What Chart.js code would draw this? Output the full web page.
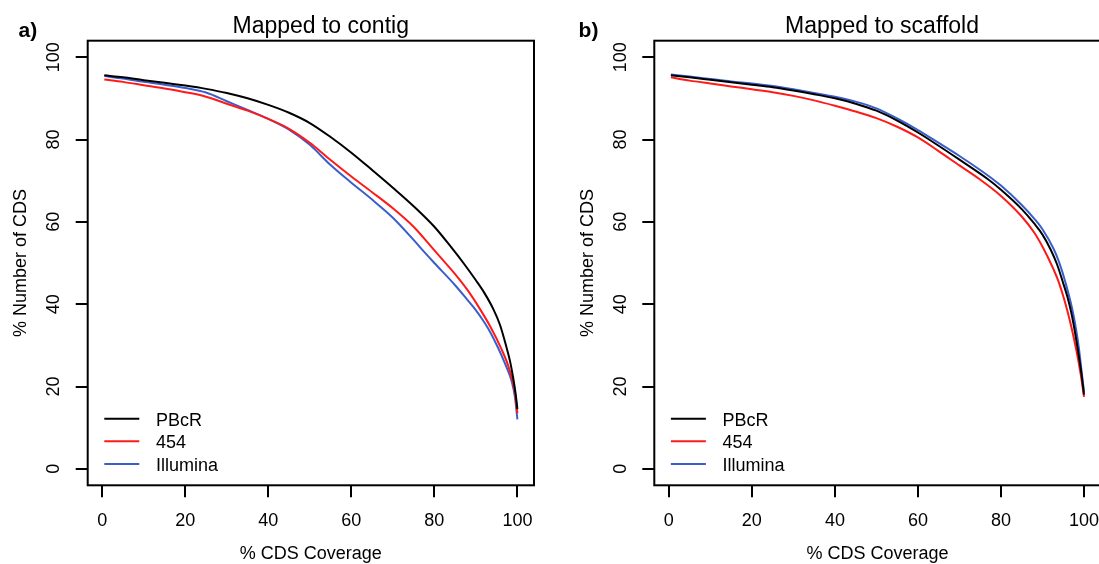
<!DOCTYPE html>
<html><head><meta charset="utf-8">
<script src="https://cdn.jsdelivr.net/npm/chart.js@4/dist/chart.umd.min.js"></script>
<style>
html,body{margin:0;padding:0;background:#fff;overflow:hidden;width:1099px;height:564px;position:relative;}
canvas{position:absolute;top:0;}
#c1{left:0}
#c2{left:549px}
</style></head><body>
<canvas id="c1" width="549" height="564"></canvas>
<canvas id="c2" width="590" height="564"></canvas>
<script>
const seriesNames = ['PBcR', '454', 'Illumina'];
const seriesColors = ['#000000', '#ff1a1a', '#3a5fcd'];
const xTickValues = [0, 20, 40, 60, 80, 100];
const yTickValues = [0, 20, 40, 60, 80, 100];
const panelLetters = ['a)', 'b)'];
const panelTitles = ['Mapped to contig', 'Mapped to scaffold'];
const xAxisTitle = '% CDS Coverage';
const yAxisTitle = '% Number of CDS';

// Panel a) Mapped to contig
const contigPBcR_x = [0.5,5,10,15,20,25,30,35,40,45,50,55,60,65,70,75,80,84,87,90,92,94.2,95.8,97.3,98.3,99,99.6,100];
const contigPBcR_y = [95.6,95.1,94.4,93.8,93.1,92.3,91.3,90.0,88.4,86.5,84.0,80.6,76.8,72.6,68.3,63.8,58.8,53.9,50.0,45.8,42.8,38.8,35.0,29.8,25.8,22,18,14.5];
const contig454_x = [0.5,5,10,15,20,25,30,35,40,45,50,55,60,65,70,75,79.8,85,88,91,93.5,96.2,97.8,98.9,99.5,100];
const contig454_y = [94.6,94.0,93.2,92.4,91.5,90.4,88.7,87.0,85.0,82.6,79.2,75.0,71.0,67.2,63.3,58.8,53.3,47.3,43.4,38.8,34.5,29,25,21,18,13.5];
const contigIllumina_x = [0.5,5,10,15,20,25,30,35,40,45,50,55,60,65,70,75,77,80,85,88,89.8,91.5,93,95.4,97,98.7,99.4,100];
const contigIllumina_y = [95.4,94.8,94.0,93.3,92.5,91.4,89.3,87.2,85.0,82.4,78.7,73.8,69.5,65.4,61.0,55.6,53.3,50.0,44.6,41.0,38.8,36.4,34.0,29.3,25.6,21,17.5,12];

// Panel b) Mapped to scaffold
const scaffoldPBcR_x = [0.5,5,10,15,20,25,30,35,40,45,50,55,60,64.8,70,76.8,80,85,88,90,91.9,93.5,94.9,96,97.1,98.5,99.4,100];
const scaffoldPBcR_y = [95.6,95.1,94.5,93.9,93.3,92.7,91.9,91.0,90.0,88.7,87.0,84.6,81.7,78.6,75.1,70.4,67.8,63.1,59.6,56.9,53.4,49.7,45.4,41.8,37.2,29.1,23,18];
const scaffold454_x = [0.5,5,10,15,20,25,30,35,40,45,50,55,60,64.8,70,74.8,80,85,88,90.3,92.5,93.9,96.3,98.1,99.2,100];
const scaffold454_y = [95.1,94.3,93.6,92.9,92.2,91.5,90.6,89.5,88.2,86.8,85.2,83.1,80.5,77.3,73.7,70.4,66.3,61.3,57.4,53.4,48.8,45.4,37.2,29.1,23,17.5];
const scaffoldIllumina_x = [0.5,5,10,15,20,25,30,35,40,45,50,55,60,64.8,70,75,78,80,85,88,90,92.7,94,95.5,97.5,98.8,99.5,100];
const scaffoldIllumina_y = [95.8,95.3,94.7,94.1,93.6,93.0,92.2,91.3,90.4,89.2,87.55,85.1,82.3,79.3,76.0,72.6,70.4,68.8,64.1,60.8,58.2,53.4,50.2,45.4,37.2,29.1,23,18.7];

Chart.defaults.font.family = '"Liberation Sans", Arial, Helvetica, sans-serif';
Chart.defaults.color = '#000';

const FONT = '"Liberation Sans", Arial, Helvetica, sans-serif';

const decor = {
  id: 'decor',
  afterDraw(chart, args, o) {
    const ctx = chart.ctx, a = chart.chartArea;
    ctx.save();
    ctx.strokeStyle = '#000';
    ctx.lineWidth = 2;
    ctx.strokeRect(a.left, a.top, a.right - a.left, a.bottom - a.top);
    chart.data.datasets.forEach((ds, i) => {
      const y = a.bottom - 66.6 + i * 22.6;
      ctx.strokeStyle = ds.borderColor;
      ctx.lineWidth = 2;
      ctx.beginPath();
      ctx.moveTo(a.left + 16.6, y);
      ctx.lineTo(a.left + 51.6, y);
      ctx.stroke();
      ctx.fillStyle = '#000';
      ctx.font = '18px ' + FONT;
      ctx.textAlign = 'left';
      ctx.textBaseline = 'alphabetic';
      ctx.fillText(ds.label, a.left + 68.3, y + 6.8);
    });
    ctx.fillStyle = '#000';
    ctx.font = 'bold 21px ' + FONT;
    ctx.textAlign = 'left';
    ctx.textBaseline = 'alphabetic';
    ctx.fillText(o.letter, o.letterX, 37);
    ctx.font = '23px ' + FONT;
    ctx.textAlign = 'center';
    ctx.fillText(o.title, o.titleX, 33);
    ctx.font = '18px ' + FONT;
    ctx.fillText(xAxisTitle, (a.left + a.right) / 2, 559);
    ctx.translate(a.left - 66.5, (a.top + a.bottom) / 2);
    ctx.rotate(-Math.PI / 2);
    ctx.textBaseline = 'middle';
    ctx.fillText(yAxisTitle, 0, 0);
    ctx.restore();
  }
};

function makeChart(id, series, cfg) {
  const datasets = series.map((s, i) => ({
    label: seriesNames[i],
    data: s[0].map((xv, j) => ({x: xv, y: s[1][j]})),
    borderColor: seriesColors[i],
    backgroundColor: seriesColors[i],
    borderWidth: 2,
    pointRadius: 0,
    cubicInterpolationMode: 'monotone',
    fill: false
  }));
  const gridOpts = {drawOnChartArea: false, drawTicks: true, tickLength: 12, color: '#000', lineWidth: 2};
  return new Chart(document.getElementById(id), {
    type: 'line',
    data: {datasets},
    options: {
      responsive: false,
      animation: false,
      devicePixelRatio: 1,
      layout: {padding: {top: 40.7, right: cfg.padRight, left: 0, bottom: 0}},
      plugins: {
        legend: {display: false},
        tooltip: {enabled: false},
        decor: {letter: cfg.letter, letterX: cfg.letterX, title: cfg.title, titleX: cfg.titleX}
      },
      scales: {
        x: {
          type: 'linear', min: -3.5, max: 104,
          afterBuildTicks: s => { s.ticks = xTickValues.map(v => ({value: v})); },
          afterFit: s => { s.height = 564 - 485.3; },
          grid: gridOpts,
          border: {display: false},
          ticks: {color: '#000', font: {size: 18}, padding: 12.9, maxRotation: 0, minRotation: 0, autoSkip: false,
                  callback: v => String(v)}
        },
        y: {
          type: 'linear', min: -4, max: 104,
          afterBuildTicks: s => { s.ticks = yTickValues.map(v => ({value: v})); },
          afterFit: s => { s.width = cfg.yWidth; },
          grid: gridOpts,
          border: {display: false},
          ticks: {color: '#000', font: {size: 18}, padding: 6.5, minRotation: 90, maxRotation: 90,
                  crossAlign: 'center', autoSkip: false, callback: v => String(v)}
        }
      }
    },
    plugins: [decor]
  });
}

makeChart('c1', [[contigPBcR_x, contigPBcR_y], [contig454_x, contig454_y], [contigIllumina_x, contigIllumina_y]],
  {padRight: 549 - 534, yWidth: 87.7, letter: panelLetters[0], letterX: 18.6, title: panelTitles[0], titleX: 320.7});
makeChart('c2', [[scaffoldPBcR_x, scaffoldPBcR_y], [scaffold454_x, scaffold454_y], [scaffoldIllumina_x, scaffoldIllumina_y]],
  {padRight: 590 - 551.6, yWidth: 105.3, letter: panelLetters[1], letterX: 29.6, title: panelTitles[1], titleX: 333});
</script>
</body></html>
